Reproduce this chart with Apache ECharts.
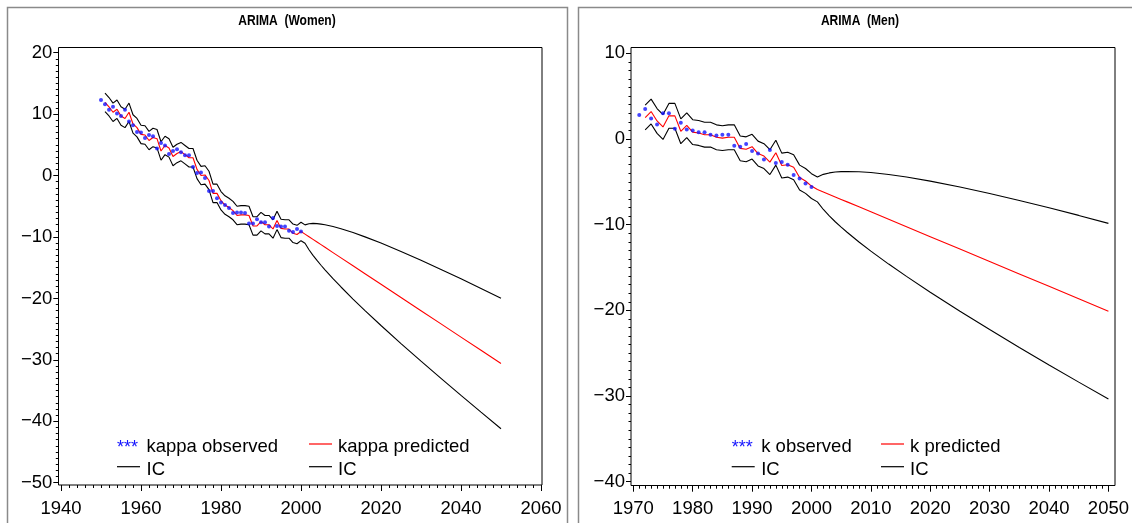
<!DOCTYPE html>
<html>
<head>
<meta charset="utf-8">
<script src="https://cdn.jsdelivr.net/npm/echarts@6/dist/echarts.min.js"></script>
<style>
  html, body { margin: 0; padding: 0; background: #fff; }
  #chart { width: 1132px; height: 523px; }
</style>
</head>
<body>
<div id="chart"></div>
<script>
// ---- Women: observed kappa (1950-2000) ----
const womenObsStart = 1950;
const womenObserved = [12.3, 11.6, 10.7, 11.2, 10.1, 9.7, 10.7, 8.8, 8.2, 7.1,
  7.0, 6.1, 6.6, 6.4, 4.4, 5.3, 4.9, 3.5, 4.0, 4.3,
  3.8, 3.3, 3.3, 1.4, 0.4, 0.5, -0.4, -2.5, -2.5, -3.7,
  -4.4, -4.8, -5.3, -6.1, -6.0, -6.0, -6.1, -7.8, -7.8, -7.1,
  -7.6, -7.6, -8.3, -6.9, -8.2, -8.3, -8.3, -9.0, -9.2, -8.7,
  -9.1];
// one-step predictions and interval (1951-2000)
const womenFitStart = 1951;
const womenFitted = [11.9, 11.2, 10.3, 10.8, 9.7, 9.3, 10.3, 8.4, 7.8, 6.7,
  6.6, 5.7, 6.2, 6.0, 4.0, 4.9, 4.5, 3.1, 3.6, 3.9,
  3.4, 2.9, 2.9, 1.0, 0.0, 0.1, -0.8, -2.9, -2.9, -4.1,
  -4.8, -5.2, -5.7, -6.5, -6.4, -6.4, -6.5, -8.2, -8.2, -7.5,
  -8.0, -8.0, -8.7, -7.3, -8.6, -8.7, -8.7, -9.4, -9.6, -9.1];
const womenFitUpper = [13.4, 12.7, 11.8, 12.3, 11.2, 10.8, 11.8, 9.9, 9.3, 8.2,
  8.1, 7.2, 7.7, 7.5, 5.5, 6.4, 6.0, 4.6, 5.1, 5.4,
  4.9, 4.4, 4.4, 2.5, 1.5, 1.6, 0.7, -1.4, -1.4, -2.6,
  -3.3, -3.7, -4.2, -5.0, -4.9, -4.9, -5.0, -6.7, -6.7, -6.0,
  -6.5, -6.5, -7.2, -5.8, -7.1, -7.2, -7.2, -7.9, -8.1, -7.6];
const womenFitLower = [10.4, 9.7, 8.8, 9.3, 8.2, 7.8, 8.8, 6.9, 6.3, 5.2,
  5.1, 4.2, 4.7, 4.5, 2.5, 3.4, 3.0, 1.6, 2.1, 2.4,
  1.9, 1.4, 1.4, -0.5, -1.5, -1.4, -2.3, -4.4, -4.4, -5.6,
  -6.3, -6.7, -7.2, -8.0, -7.9, -7.9, -8.0, -9.7, -9.7, -9.0,
  -9.5, -9.5, -10.2, -8.8, -10.1, -10.2, -10.2, -10.9, -11.1, -10.6];
// forecast 2001-2050
const forecastYears = [2001, 2002, 2003, 2004, 2005, 2006, 2008, 2010, 2013, 2016,
  2020, 2025, 2030, 2035, 2040, 2045, 2050];
const womenForecast = [-9.53, -9.96, -10.39, -10.82, -11.25, -11.68, -12.54, -13.4, -14.69, -15.98,
  -17.7, -19.85, -22.0, -24.15, -26.3, -28.45, -30.6];
const womenForecastUpper = [-8.03, -7.84, -7.79, -7.82, -7.9, -8.01, -8.3, -8.66, -9.28, -9.98,
  -10.99, -12.35, -13.78, -15.28, -16.81, -18.39, -19.99];
const womenForecastLower = [-11.03, -12.08, -12.99, -13.82, -14.6, -15.35, -16.78, -18.14, -20.1, -21.98,
  -24.41, -27.35, -30.22, -33.02, -35.79, -38.51, -41.21];

// ---- Men: observed k (1971-2000) ----
const menObsStart = 1971;
const menObserved = [2.8, 3.5, 2.4, 1.7, 3.0, 3.0, 1.2, 1.9, 1.1, 1.0,
  0.8, 0.8, 0.5, 0.4, 0.5, 0.5, -0.8, -0.9, -0.6, -1.4,
  -1.7, -2.4, -1.3, -2.8, -2.7, -3.0, -4.2, -4.6, -5.2, -5.6];
const menFitStart = 1972;
const menFitted = [2.5, 3.2, 2.1, 1.4, 2.7, 2.7, 0.9, 1.6, 0.8, 0.7,
  0.5, 0.5, 0.2, 0.1, 0.2, 0.2, -1.1, -1.2, -0.9, -1.7,
  -2.0, -2.7, -1.6, -3.1, -3.0, -3.3, -4.5, -4.9, -5.5];
const menFitUpper = [3.95, 4.65, 3.55, 2.85, 4.15, 4.15, 2.35, 3.05, 2.25, 2.15,
  1.95, 1.95, 1.65, 1.55, 1.65, 1.65, 0.35, 0.25, 0.55, -0.25,
  -0.55, -1.25, -0.15, -1.65, -1.55, -1.85, -3.05, -3.45, -4.05];
const menFitLower = [1.05, 1.75, 0.65, -0.05, 1.25, 1.25, -0.55, 0.15, -0.65, -0.75,
  -0.95, -0.95, -1.25, -1.35, -1.25, -1.25, -2.55, -2.65, -2.35, -3.15,
  -3.45, -4.15, -3.05, -4.55, -4.45, -4.75, -5.95, -6.35, -6.95];
const menForecast = [-5.89, -6.18, -6.47, -6.76, -7.05, -7.34, -7.92, -8.5, -9.37, -10.24,
  -11.4, -12.85, -14.3, -15.75, -17.2, -18.65, -20.1];
const menForecastUpper = [-4.44, -4.13, -3.96, -3.86, -3.81, -3.79, -3.82, -3.91, -4.14, -4.44,
  -4.92, -5.6, -6.36, -7.17, -8.03, -8.92, -9.85];
const menForecastLower = [-7.34, -8.23, -8.98, -9.66, -10.29, -10.89, -12.02, -13.09, -14.6, -16.04,
  -17.88, -20.1, -22.24, -24.33, -26.37, -28.38, -30.35];

// ---- axis ranges / tick steps ----
const womenXAxis = { min: 1940, max: 2060, step: 20 };
const womenYAxis = { min: -50, max: 20, step: 10 };
const menXAxis = { min: 1970, max: 2050, step: 10 };
const menYAxis = { min: -40, max: 10, step: 10 };

// ---- text ----
const titles = ['ARIMA  (Women)', 'ARIMA  (Men)'];
const womenLegend = ['kappa observed', 'kappa predicted', 'IC', 'IC'];
const menLegend = ['k observed', 'k predicted', 'IC', 'IC'];

const FONT = "'Liberation Sans', Arial, sans-serif";
const BLUE = '#1414ff';
const RED = '#ff0000';

function annual(start, vals) { return vals.map((v, i) => [start + i, v]); }
function paired(xs, vals) { return vals.map((v, i) => [xs[i], v]); }
function minusFmt(v) { return v < 0 ? '\u2212' + Math.abs(v) : String(v); }

function xAxisOf(gi, r, offset) {
  return {
    gridIndex: gi, type: 'value', min: r.min, max: r.max, interval: r.step,
    position: 'bottom', offset: offset,
    axisLine: { show: false, onZero: false },
    axisTick: { show: true, length: 6, lineStyle: { color: '#000', width: 1 } },
    minorTick: { show: true, splitNumber: 10, length: 3, lineStyle: { color: '#000', width: 1 } },
    splitLine: { show: false }, minorSplitLine: { show: false },
    axisLabel: { color: '#000', fontSize: 18.5, fontFamily: FONT, margin: 14, formatter: v => String(v) }
  };
}
function yAxisOf(gi, r, offset) {
  return {
    gridIndex: gi, type: 'value', min: r.min, max: r.max, interval: r.step,
    position: 'left', offset: offset,
    axisLine: { show: false, onZero: false },
    axisTick: { show: true, length: 5, lineStyle: { color: '#000', width: 1 } },
    minorTick: { show: true, splitNumber: 10, length: 2.5, lineStyle: { color: '#000', width: 1 } },
    splitLine: { show: false }, minorSplitLine: { show: false },
    axisLabel: { color: '#000', fontSize: 18.5, fontFamily: FONT, margin: 6, formatter: minusFmt }
  };
}
function line(ai, data, color) {
  return { type: 'line', xAxisIndex: ai, yAxisIndex: ai, data: data, symbol: 'none',
    lineStyle: { color: color, width: 1.1 }, itemStyle: { color: color }, silent: true, z: 2 };
}
function dots(ai, data) {
  return { type: 'scatter', xAxisIndex: ai, yAxisIndex: ai, data: data, symbol: 'circle', symbolSize: 4,
    itemStyle: { color: BLUE }, silent: true, z: 3 };
}

// legend block built from graphic primitives
function legendBlock(labels, col1, col2, row1, row2) {
  const txt = (x, y, s, color) => ({ type: 'text', x: x, y: y, silent: true,
    style: { text: s, fill: color || '#000', font: '18.5px ' + FONT, verticalAlign: 'middle', align: 'left' } });
  const seg = (x, y, color) => ({ type: 'line', silent: true,
    shape: { x1: x, y1: y, x2: x + 23, y2: y }, style: { stroke: color, lineWidth: 1.2 } });
  return [
    { type: 'text', x: col1, y: row1 + 4, silent: true,
      style: { text: '***', fill: BLUE, font: '18px ' + FONT, verticalAlign: 'middle', align: 'left' } },
    txt(col1 + 29.5, row1 + 3, labels[0]),
    seg(col2, row1, RED),
    txt(col2 + 29, row1 + 3, labels[1]),
    seg(col1, row2, '#000'),
    txt(col1 + 29.5, row2 + 3, labels[2]),
    seg(col2, row2, '#000'),
    txt(col2 + 29, row2 + 3, labels[3])
  ];
}
function frame(x, y, w, h, color, lw) {
  return { type: 'rect', silent: true, z: 10, shape: { x: x, y: y, width: w, height: h },
    style: { fill: null, stroke: color, lineWidth: lw } };
}
function title(cx, s) {
  return { type: 'text', x: cx, y: 21, silent: true, scaleX: 0.86, originX: 0, originY: 0,
    style: { text: s, fill: '#000', font: 'bold 14px ' + FONT, align: 'center', verticalAlign: 'middle' } };
}

const chart = echarts.init(document.getElementById('chart'), null, { renderer: 'canvas' });
chart.setOption({
  animation: false,
  backgroundColor: '#fff',
  grid: [
    { left: 61, top: 52.7, width: 480, height: 430 },
    { left: 633.3, top: 53.3, width: 479, height: 428.4 }
  ],
  xAxis: [xAxisOf(0, womenXAxis, 2.3), xAxisOf(1, menXAxis, 4)],
  yAxis: [yAxisOf(0, womenYAxis, 2.7), yAxisOf(1, menYAxis, 2.3)],
  series: [
    line(0, annual(womenFitStart, womenFitUpper).concat(paired(forecastYears, womenForecastUpper)), '#000'),
    line(0, annual(womenFitStart, womenFitLower).concat(paired(forecastYears, womenForecastLower)), '#000'),
    line(0, annual(womenFitStart, womenFitted).concat(paired(forecastYears, womenForecast)), RED),
    dots(0, annual(womenObsStart, womenObserved)),
    line(1, annual(menFitStart, menFitUpper).concat(paired(forecastYears, menForecastUpper)), '#000'),
    line(1, annual(menFitStart, menFitLower).concat(paired(forecastYears, menForecastLower)), '#000'),
    line(1, annual(menFitStart, menFitted).concat(paired(forecastYears, menForecast)), RED),
    dots(1, annual(menObsStart, menObserved))
  ],
  graphic: [
    frame(7.5, 7.5, 560, 540, '#8a8a8a', 1.5),
    frame(578.5, 7.5, 580, 540, '#8a8a8a', 1.5),
    frame(58.5, 47.5, 483.5, 437.5, '#000', 1),
    frame(631, 47.5, 484, 438, '#000', 1),
    title(287, titles[0]),
    title(860, titles[1])
  ].concat(legendBlock(womenLegend, 117, 309, 444, 466.7))
   .concat(legendBlock(menLegend, 731.7, 881, 444, 466.7))
});
</script>
</body>
</html>
